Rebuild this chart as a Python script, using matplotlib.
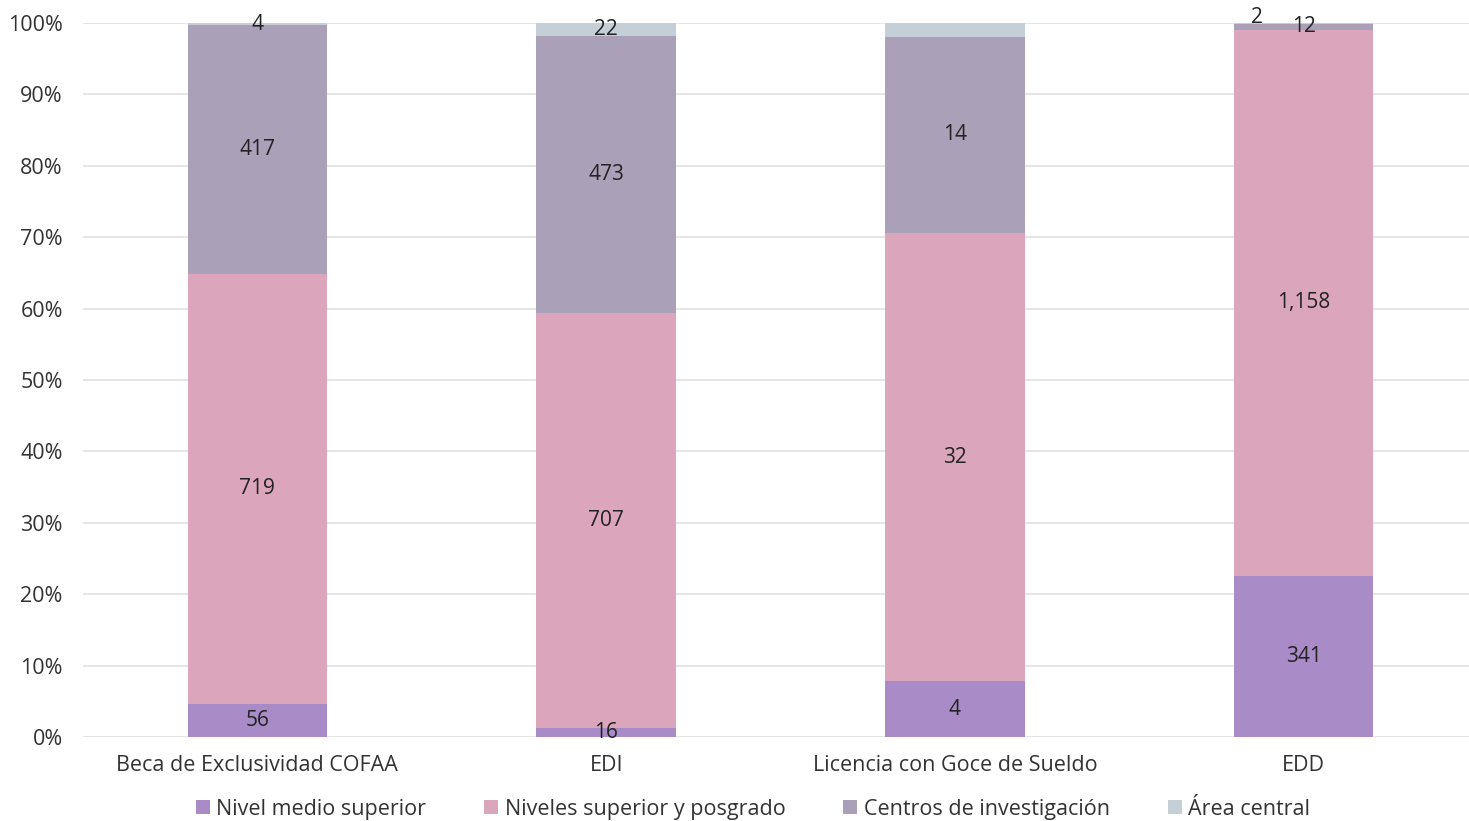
import matplotlib.pyplot as plt
import numpy as np

categories = ['Beca de Exclusividad COFAA', 'EDI', 'Licencia con Goce de Sueldo', 'EDD']
series = ['Nivel medio superior', 'Niveles superior y posgrado', 'Centros de investigación', 'Área central']
medio = [56, 16, 4, 341]
superior = [719, 707, 32, 1158]
centros = [417, 473, 14, 12]
central = [4, 22, 1, 2]
colors = ['#A98BC8', '#DBA5BB', '#AAA0B8', '#C5CFD8']

plt.rcParams['font.family'] = ['Open Sans', 'DejaVu Sans']

data = np.array([medio, superior, centros, central], dtype=float)
totals = data.sum(axis=0)
pct = data / totals * 100

fig = plt.figure(figsize=(14.69, 8.21), dpi=100)
ax = fig.add_axes([83 / 1469, 84 / 821, 1395 / 1469, 714 / 821])

x = np.arange(len(categories))
bottom = np.zeros(len(categories))
for i, name in enumerate(series):
    ax.bar(x, pct[i], 0.4, bottom=bottom, color=colors[i], label=name, zorder=2)
    for j in range(len(categories)):
        val = int(data[i, j])
        # small top value for Licencia is not labelled in the original
        if i == 3 and j == 2:
            continue
        cy = bottom[j] + pct[i, j] / 2
        dx, dy = 0, 0
        if i == 3 and j == 3:
            dx, dy = -0.135, 0.9
        ax.text(x[j] + dx, cy + dy, f'{val:,}', ha='center', va='center',
                fontsize=15, color='#222222', zorder=3)
    bottom += pct[i]

ax.set_xlim(-0.5, 3.5)
ax.set_ylim(0, 100)
ax.set_yticks(np.arange(0, 101, 10))
ax.set_yticklabels([f'{t}%' for t in range(0, 101, 10)])
ax.set_xticks(x)
ax.set_xticklabels(categories)
ax.tick_params(axis='both', length=0, labelsize=15.5, colors='#333333')
ax.tick_params(axis='x', pad=13)
ax.tick_params(axis='y', pad=14.5)
ax.grid(axis='y', color='#E0E0E0', linewidth=1.2, zorder=0)
for s in ax.spines.values():
    s.set_visible(False)

ax.legend(loc='center', bbox_to_anchor=(670 / 1395, -0.101), ncol=4,
          frameon=False, fontsize=15.5, handlelength=0.65, handleheight=0.65,
          handletextpad=0.3, columnspacing=2.7, labelcolor='#333333')

plt.savefig('out.png', dpi=100)
